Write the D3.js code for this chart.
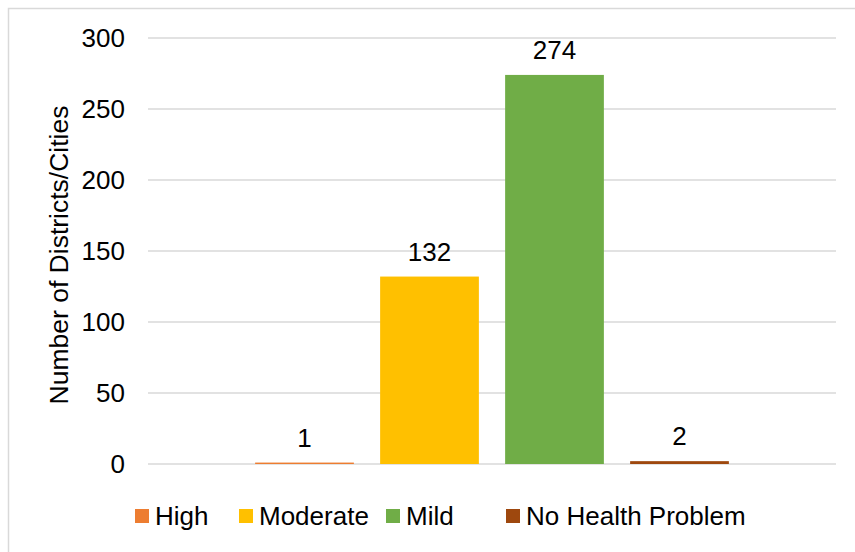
<!DOCTYPE html>
<html>
<head>
<meta charset="utf-8">
<script src="https://cdn.jsdelivr.net/npm/d3@7"></script>
<style>
  body { margin: 0; background: #fff; }
  text { font-family: "Liberation Sans", Arial, sans-serif; fill: #000; }
</style>
</head>
<body>
<div id="chart"></div>
<script>
// Series (one category, four series)
var series = ['High', 'Moderate', 'Mild', 'No Health Problem'];
var values = [1, 132, 274, 2];
var colors = ['#ed7d31', '#ffc000', '#70ad47', '#9e480e'];
var yTicks = [0, 50, 100, 150, 200, 250, 300];
var yLabel = 'Number of Districts/Cities';

var width = 855, height = 552;
var margin = {top: 38, right: 19, bottom: 88, left: 148};
var plotW = width - margin.left - margin.right;
var plotH = height - margin.top - margin.bottom;

var svg = d3.select('#chart').append('svg')
    .attr('width', width)
    .attr('height', height);

// chart area border (runs off the right and bottom edge)
svg.append('rect')
    .attr('x', 8.5).attr('y', 8.5)
    .attr('width', 900).attr('height', 600)
    .attr('fill', 'none')
    .attr('stroke', '#d9d9d9')
    .attr('stroke-width', 1.5);

var g = svg.append('g')
    .attr('transform', 'translate(' + margin.left + ',' + margin.top + ')');

var y = d3.scaleLinear().domain([0, 300]).range([plotH, 0]);

// series are centred in the single category
var groupW = 500;
var x = d3.scaleBand()
    .domain(series)
    .range([(plotW - groupW) / 2, (plotW + groupW) / 2])
    .paddingInner(0.21)
    .paddingOuter(0.105);

// gridlines
g.selectAll('.grid')
    .data(yTicks)
    .enter().append('line')
      .attr('class', 'grid')
      .attr('x1', 0).attr('x2', plotW)
      .attr('y1', d => y(d)).attr('y2', d => y(d))
      .attr('stroke', '#d9d9d9')
      .attr('stroke-width', 1.5);

// y axis tick labels
var yAxis = d3.axisLeft(y).tickValues(yTicks).tickSize(0).tickPadding(23);
var gY = g.append('g').call(yAxis);
gY.select('.domain').remove();
gY.selectAll('text')
    .style('font-family', '"Liberation Sans", Arial, sans-serif')
    .style('font-size', '26px')
    .attr('fill', '#000');

// bars
g.selectAll('.bar')
    .data(values)
    .enter().append('rect')
      .attr('class', 'bar')
      .attr('x', (d, i) => x(series[i]))
      .attr('y', d => y(d))
      .attr('width', x.bandwidth())
      .attr('height', d => plotH - y(d))
      .attr('fill', (d, i) => colors[i]);

// data labels
g.selectAll('.lab')
    .data(values)
    .enter().append('text')
      .attr('class', 'lab')
      .attr('x', (d, i) => x(series[i]) + x.bandwidth() / 2)
      .attr('y', d => y(d) - 16)
      .attr('text-anchor', 'middle')
      .style('font-size', '26px')
      .text(d => d);

// y axis title
svg.append('text')
    .attr('transform', 'translate(68,' + (margin.top + plotH / 2 + 4) + ') rotate(-90)')
    .attr('text-anchor', 'middle')
    .style('font-size', '26.5px')
    .text(yLabel);

// legend
var legendX = [135, 239, 386, 506];
var leg = svg.selectAll('.leg')
    .data(series)
    .enter().append('g')
      .attr('class', 'leg')
      .attr('transform', (d, i) => 'translate(' + legendX[i] + ',516)');
leg.append('rect')
    .attr('x', 0).attr('y', -7)
    .attr('width', 14).attr('height', 14)
    .attr('fill', (d, i) => colors[i]);
leg.append('text')
    .attr('x', 20)
    .attr('y', 9)
    .style('font-size', '26px')
    .text(d => d);
</script>
</body>
</html>
